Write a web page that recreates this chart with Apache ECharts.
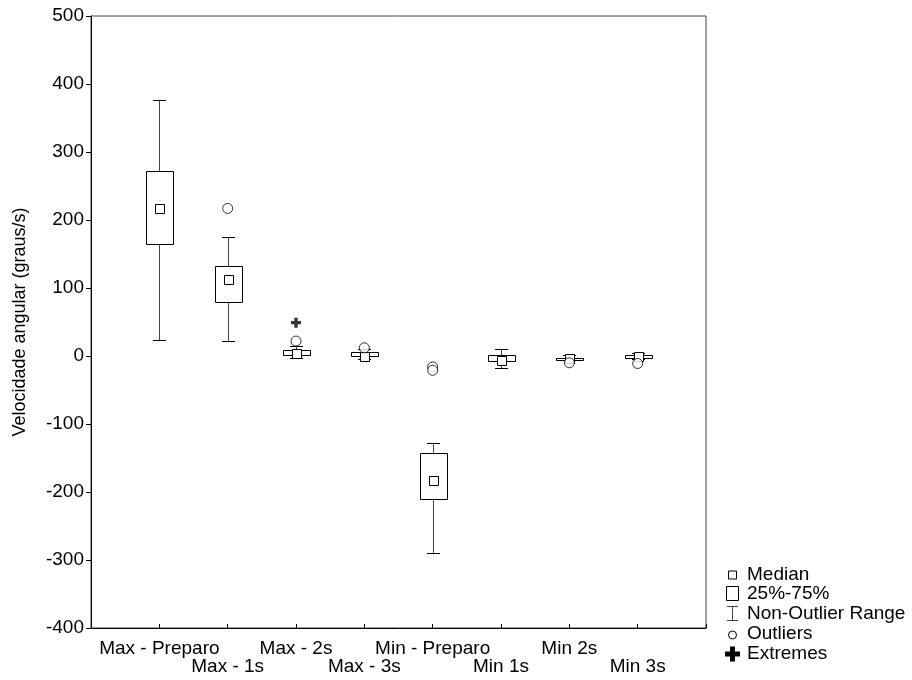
<!DOCTYPE html>
<html>
<head>
<meta charset="utf-8">
<script src="https://cdn.jsdelivr.net/npm/echarts@6/dist/echarts.min.js"></script>
<style>html,body{margin:0;padding:0;background:#fff;}#c{width:912px;height:680px;}</style>
</head>
<body>
<div id="c"></div>
<script>
// ---- data ----
const categories = ['Max - Preparo','Max - 1s','Max - 2s','Max - 3s','Min - Preparo','Min 1s','Min 2s','Min 3s'];
const whiskerLow  = [24, 22, -3, -4, -289, -18, -6, -5];
const q1          = [165, 80, 2, 0, -210, -8, -6, -4];
const median      = [217, 112, 3, -1, -183, -6, -4, -1];
const q3          = [272, 133, 9, 6, -143, 1, -3, 1];
const whiskerHigh = [377, 175, 14, 10, -128, 10, 2, 4];
const outlierCat  = [2, 3, 4, 5, 5, 7, 8];
const outlierVal  = [217, 22, 12, -16, -21, -10, -11];
const extremeCat  = [3];
const extremeVal  = [49];
const yTicks = [-400, -300, -200, -100, 0, 100, 200, 300, 400, 500];
const legendLabels = ['Median', '25%-75%', 'Non-Outlier Range', 'Outliers', 'Extremes'];

const FONT = '"Liberation Sans", Arial, sans-serif';
const boxData = categories.map((c, i) => [i + 1, whiskerLow[i], q1[i], median[i], q3[i], whiskerHigh[i]]);
const outlierData = outlierCat.map((c, i) => [c, outlierVal[i]]);
const extremeData = extremeCat.map((c, i) => [c, extremeVal[i]]);

const chart = echarts.init(document.getElementById('c'), null, {renderer: 'canvas'});

function px(v) { return Math.round(v) + 0.5; }

// legend (drawn as graphic elements)
const LX = 732.5, TX = 747;
const rowY = [575, 594, 614, 634, 654];
const lf = '19px ' + FONT;
const legendGraphic = [
  {type: 'rect', shape: {x: LX - 4, y: rowY[0] - 4, width: 8, height: 8}, style: {fill: '#fff', stroke: '#000', lineWidth: 1}},
  {type: 'rect', shape: {x: LX - 6, y: rowY[1] - 7.5, width: 12, height: 14}, style: {fill: '#fff', stroke: '#000', lineWidth: 1}},
  {type: 'line', shape: {x1: LX, y1: rowY[2] - 8, x2: LX, y2: rowY[2] + 7}, style: {stroke: '#444', lineWidth: 1}},
  {type: 'line', shape: {x1: LX - 5.5, y1: rowY[2] - 7.5, x2: LX + 5.5, y2: rowY[2] - 7.5}, style: {stroke: '#444', lineWidth: 1}},
  {type: 'line', shape: {x1: LX - 5.5, y1: rowY[2] + 6.5, x2: LX + 5.5, y2: rowY[2] + 6.5}, style: {stroke: '#444', lineWidth: 1}},
  {type: 'circle', shape: {cx: LX, cy: rowY[3] + 1, r: 4}, style: {fill: '#fff', stroke: '#000', lineWidth: 1}},
  {type: 'polygon', shape: {points: [[-2.5,-7.5],[2.5,-7.5],[2.5,-2.5],[7.5,-2.5],[7.5,2.5],[2.5,2.5],[2.5,7.5],[-2.5,7.5],[-2.5,2.5],[-7.5,2.5],[-7.5,-2.5],[-2.5,-2.5]].map(p => [LX + p[0], rowY[4] + p[1]])}, style: {fill: '#000'}}
];
legendLabels.forEach((t, i) => {
  legendGraphic.push({type: 'text', x: TX, y: rowY[i], style: {text: t, font: lf, fill: '#000', textVerticalAlign: 'middle'}});
});

const option = {
  backgroundColor: '#fff',
  animation: false,
  grid: {left: 91, top: 16, right: 206, bottom: 52, show: true, borderColor: '#444', borderWidth: 1, backgroundColor: 'transparent'},
  xAxis: {
    type: 'value', min: 0, max: 9, interval: 1,
    axisLine: {show: true, onZero: false, lineStyle: {color: '#000', width: 1}},
    axisTick: {show: true, inside: true, length: 4, lineStyle: {color: '#000'}},
    splitLine: {show: false},
    axisLabel: {
      margin: 12, fontSize: 19, lineHeight: 18, color: '#000', fontFamily: FONT,
      formatter: function (v) {
        if (v < 1 || v > 8) return '';
        const t = categories[v - 1];
        return (v % 2 === 0) ? '\n' + t : t;
      }
    }
  },
  yAxis: {
    type: 'value', min: yTicks[0], max: yTicks[yTicks.length - 1], interval: 100,
    name: 'Velocidade angular (graus/s)', nameLocation: 'middle', nameGap: 62,
    nameTextStyle: {fontSize: 18, color: '#000', fontFamily: FONT},
    axisLine: {show: true, onZero: false, lineStyle: {color: '#000', width: 1}},
    axisTick: {show: true, inside: false, length: 5, lineStyle: {color: '#000'}},
    splitLine: {show: false},
    axisLabel: {margin: 7, fontSize: 19, color: '#000', fontFamily: FONT}
  },
  series: [
    {
      type: 'custom',
      data: boxData,
      encode: {x: 0, y: [1, 2, 3, 4, 5]},
      z: 2,
      renderItem: function (params, api) {
        const x = api.value(0);
        const pLo = api.coord([x, api.value(1)]);
        const pQ1 = api.coord([x, api.value(2)]);
        const pMed = api.coord([x, api.value(3)]);
        const pQ3 = api.coord([x, api.value(4)]);
        const pHi = api.coord([x, api.value(5)]);
        const bw = api.size([0.4, 0])[0];
        const cw = api.size([0.19, 0])[0];
        const cx = px(pMed[0]);
        const sq = 9;
        const ln = {stroke: '#000', lineWidth: 1};
        const wl = {stroke: '#444', lineWidth: 1};
        return {
          type: 'group',
          children: [
            {type: 'line', shape: {x1: cx, y1: px(pHi[1]), x2: cx, y2: px(pQ3[1])}, style: wl},
            {type: 'line', shape: {x1: cx, y1: px(pQ1[1]), x2: cx, y2: px(pLo[1])}, style: wl},
            {type: 'line', shape: {x1: cx - cw / 2, y1: px(pHi[1]), x2: cx + cw / 2, y2: px(pHi[1])}, style: ln},
            {type: 'line', shape: {x1: cx - cw / 2, y1: px(pLo[1]), x2: cx + cw / 2, y2: px(pLo[1])}, style: ln},
            {type: 'rect', shape: {x: Math.round(cx - bw / 2) + 0.5, y: px(pQ3[1]), width: Math.round(bw), height: Math.max(1, Math.round(pQ1[1] - pQ3[1]))},
              style: {fill: '#fff', stroke: '#000', lineWidth: 1}},
            {type: 'rect', shape: {x: Math.round(cx - sq / 2) + 0.5, y: Math.round(pMed[1] - sq / 2) + 0.5, width: sq, height: sq},
              style: {fill: '#fff', stroke: '#000', lineWidth: 1}}
          ]
        };
      }
    },
    {
      type: 'scatter', data: outlierData, z: 3,
      symbol: 'circle', symbolSize: 10,
      itemStyle: {color: '#fff', borderColor: '#000', borderWidth: 1}
    },
    {
      type: 'scatter', data: extremeData, z: 3,
      symbol: 'path://M3,0H6V3H9V6H6V9H3V6H0V3H3Z', symbolSize: 10,
      itemStyle: {color: '#000'}
    }
  ],
  graphic: legendGraphic
};
chart.setOption(option);
</script>
</body>
</html>
